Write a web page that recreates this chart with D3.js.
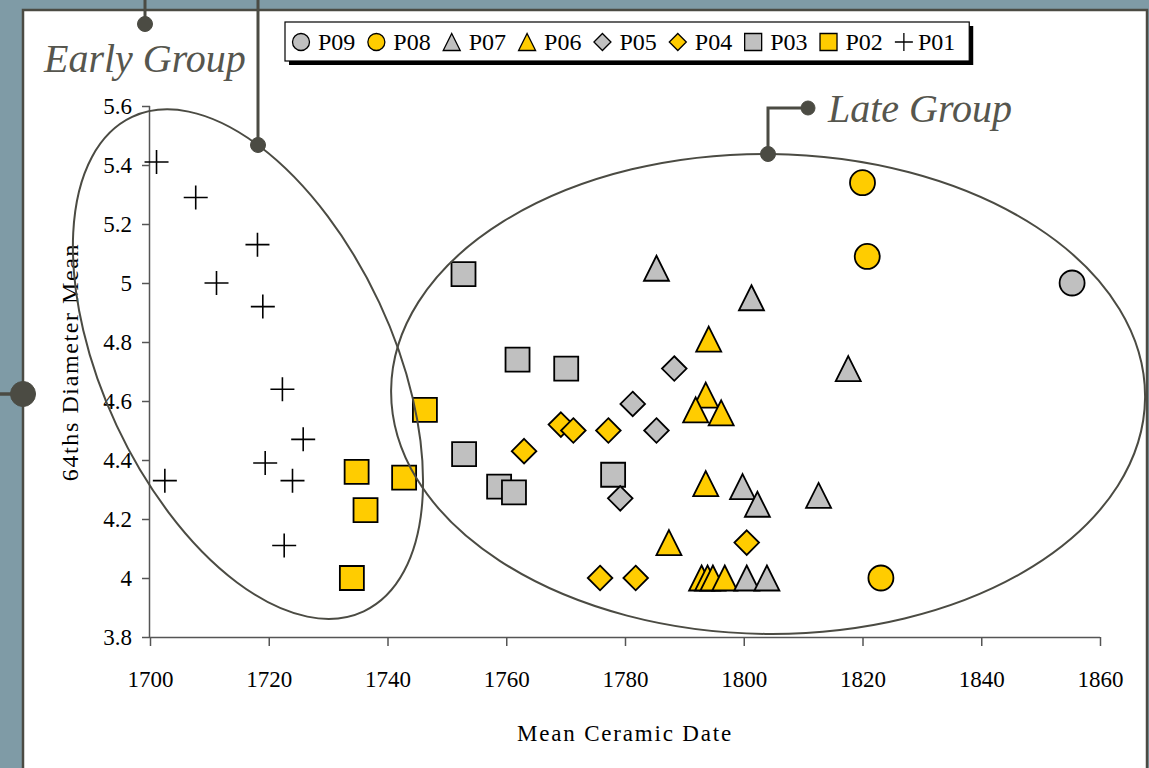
<!DOCTYPE html>
<html>
<head>
<meta charset="utf-8">
<script src="https://cdn.jsdelivr.net/npm/d3@7"></script>
<style>
  html, body { margin: 0; padding: 0; background: #7f9ba6; }
  svg { display: block; }
</style>
</head>
<body>
<svg id="chart" width="1149" height="768"></svg>
<script>
// ---- Data: mean ceramic date vs 64ths diameter mean, by phase ----
const seriesNames = ["P01", "P02", "P03", "P04", "P05", "P06", "P07", "P08", "P09"];

const p01X = [1701.1, 1707.7, 1718.1, 1711.2, 1719.0, 1722.3, 1725.8, 1719.4, 1724.0, 1702.5, 1722.6];
const p01Y = [5.41, 5.29, 5.13, 5.00, 4.92, 4.64, 4.47, 4.39, 4.33, 4.33, 4.11];

const p02X = [1734.8, 1736.3, 1742.8, 1746.3, 1734.0];
const p02Y = [4.36, 4.23, 4.34, 4.57, 4.00];

const p03X = [1752.8, 1761.9, 1770.1, 1752.9, 1758.8, 1761.3, 1778.0];
const p03Y = [5.03, 4.74, 4.71, 4.42, 4.31, 4.29, 4.35];

const p04X = [1769.2, 1771.3, 1777.2, 1763.0, 1775.8, 1781.8, 1800.5];
const p04Y = [4.52, 4.50, 4.50, 4.43, 4.00, 4.00, 4.12];

const p05X = [1788.3, 1781.3, 1785.3, 1779.2];
const p05Y = [4.71, 4.59, 4.50, 4.27];

const p06X = [1794.1, 1793.6, 1791.9, 1796.2, 1793.6, 1787.4, 1792.9, 1793.9, 1794.8, 1796.8];
const p06Y = [4.81, 4.62, 4.57, 4.56, 4.32, 4.12, 4.00, 4.00, 4.00, 4.00];

const p07X = [1785.3, 1801.3, 1799.8, 1802.3, 1800.5, 1803.9, 1817.6, 1812.6];
const p07Y = [5.05, 4.95, 4.31, 4.25, 4.00, 4.00, 4.71, 4.28];

const p08X = [1820.0, 1820.8, 1823.1];
const p08Y = [5.34, 5.09, 4.00];

const p09X = [1855.3];
const p09Y = [5.00];

const xTicks = [1700, 1720, 1740, 1760, 1780, 1800, 1820, 1840, 1860];
const yTicks = [3.8, 4.0, 4.2, 4.4, 4.6, 4.8, 5.0, 5.2, 5.4, 5.6];

const xTitle = "Mean Ceramic Date";
const yTitle = "64ths Diameter Mean";

// ---- Styles ----
const GRAY = "#c0c0c0", GOLD = "#ffcc00", INK = "#4b4b43";
const seriesStyle = {
  P01: { shape: "plus",     fill: "none" },
  P02: { shape: "square",   fill: GOLD },
  P03: { shape: "square",   fill: GRAY },
  P04: { shape: "diamond",  fill: GOLD },
  P05: { shape: "diamond",  fill: GRAY },
  P06: { shape: "triangle", fill: GOLD },
  P07: { shape: "triangle", fill: GRAY },
  P08: { shape: "circle",   fill: GOLD },
  P09: { shape: "circle",   fill: GRAY }
};
const seriesData = {
  P01: [p01X, p01Y], P02: [p02X, p02Y], P03: [p03X, p03Y],
  P04: [p04X, p04Y], P05: [p05X, p05Y], P06: [p06X, p06Y],
  P07: [p07X, p07Y], P08: [p08X, p08Y], P09: [p09X, p09Y]
};

// marker path of a given half-size s, centred on 0,0
function markerPath(shape, s) {
  switch (shape) {
    case "square":   return `M${-s},${-s}H${s}V${s}H${-s}Z`;
    case "diamond":  return `M0,${-s}L${s},0L0,${s}L${-s},0Z`;
    case "triangle": return `M0,${-s}L${s},${s}L${-s},${s}Z`;
    case "circle":   return `M${s},0A${s},${s} 0 1 1 ${-s},0A${s},${s} 0 1 1 ${s},0Z`;
    case "plus":     return `M${-s},0H${s}M0,${-s}V${s}`;
  }
}

const svg = d3.select("#chart");
const W = 1149, H = 768;
const SERIF = "'Liberation Serif', 'Times New Roman', serif";

// ---- Slide panel ----
svg.append("rect").attr("x", 0).attr("y", 0).attr("width", W).attr("height", H).attr("fill", "#7f9ba6");
svg.append("rect").attr("x", 23).attr("y", 10).attr("width", 1124).attr("height", 780)
  .attr("fill", "#ffffff").attr("stroke", INK).attr("stroke-width", 2.5);

// ---- Scales ----
const x = d3.scaleLinear().domain([1700, 1860]).range([150, 1100]);
const y = d3.scaleLinear().domain([3.8, 5.6]).range([637, 106]);

// ---- Axes ----
const xAxis = d3.axisBottom(x).tickValues(xTicks).tickSize(9).tickPadding(25).tickFormat(d3.format("d"));
const yAxis = d3.axisLeft(y).tickValues(yTicks).tickSize(8).tickPadding(10).tickFormat(d => String(+d.toFixed(1)));

const gx = svg.append("g").attr("transform", `translate(0,${y(3.8)})`).call(xAxis);
const gy = svg.append("g").attr("transform", `translate(${x(1700)},0)`).call(yAxis);
[gx, gy].forEach(g => {
  g.select(".domain").attr("stroke", "#555").attr("stroke-width", 1.5);
  g.selectAll(".tick line").attr("stroke", "#555").attr("stroke-width", 1.5);
  g.selectAll(".tick text").attr("fill", "#000").style("font-family", SERIF).style("font-size", "23px");
});
gx.select(".domain").attr("d", `M${x(1700)},0.5H${x(1860)}`);
gy.select(".domain").attr("d", `M-0.5,${y(5.6)}V${y(3.8)}`);

svg.append("text").attr("x", 625).attr("y", 741).attr("text-anchor", "middle")
  .style("font-family", SERIF).style("font-size", "23px").style("letter-spacing", "1.8px")
  .text(xTitle);
svg.append("text").attr("transform", "translate(78,362) rotate(-90)").attr("text-anchor", "middle")
  .style("font-family", SERIF).style("font-size", "24px").style("letter-spacing", "1.6px")
  .text(yTitle);

// ---- Points ----
const half = { square: 12, diamond: 12.3, triangle: 12.5, circle: 12.5, plus: 12 };
const gPts = svg.append("g");
seriesNames.forEach(name => {
  const st = seriesStyle[name];
  const [xs, ys] = seriesData[name];
  const pts = xs.map((v, i) => ({ x: v, y: ys[i] }));
  gPts.append("g").selectAll("path").data(pts).join("path")
    .attr("transform", d => `translate(${x(d.x)},${y(d.y)})`)
    .attr("d", markerPath(st.shape, half[st.shape]))
    .attr("fill", st.fill)
    .attr("stroke", "#000")
    .attr("stroke-width", st.shape === "plus" ? 1.6 : 1.8)
    .attr("stroke-linejoin", "miter");
});

// ---- Group ellipses (centre in data units, radii in px) ----
const groups = [
  { cx: 1716.5, cy: 4.725, rx: 273, ry: 145, rot: 64.9 },
  { cx: 1804.1, cy: 4.624, rx: 377, ry: 240, rot: 0.6 }
];
svg.append("g").selectAll("ellipse").data(groups).join("ellipse")
  .attr("transform", d => `translate(${x(d.cx)},${y(d.cy)}) rotate(${d.rot})`)
  .attr("rx", d => d.rx).attr("ry", d => d.ry)
  .attr("fill", "none").attr("stroke", INK).attr("stroke-width", 2);

// ---- Callouts ----
const call = svg.append("g").attr("stroke", INK).attr("fill", INK);
call.append("path").attr("d", "M258,0V145").attr("stroke-width", 3).attr("fill", "none");
call.append("circle").attr("cx", 258).attr("cy", 145).attr("r", 7.5);
call.append("path").attr("d", "M145,0V24").attr("stroke-width", 3).attr("fill", "none");
call.append("circle").attr("cx", 145).attr("cy", 24).attr("r", 7.5);
call.append("path").attr("d", "M768,154V108H808").attr("stroke-width", 3).attr("fill", "none");
call.append("circle").attr("cx", 768).attr("cy", 154).attr("r", 7.5);
call.append("circle").attr("cx", 808).attr("cy", 108).attr("r", 7);
call.append("path").attr("d", "M0,394H23").attr("stroke-width", 3.5).attr("fill", "none");
call.append("circle").attr("cx", 23).attr("cy", 394).attr("r", 12.5);

svg.append("text").attr("x", 44).attr("y", 72)
  .style("font-family", SERIF).style("font-style", "italic").style("font-size", "40px")
  .attr("fill", "#56564e").text("Early Group");
svg.append("text").attr("x", 828).attr("y", 122)
  .style("font-family", SERIF).style("font-style", "italic").style("font-size", "40px")
  .attr("fill", "#56564e").text("Late Group");

// ---- Legend ----
const lg = svg.append("g");
const legendOrder = seriesNames.slice().reverse();
const lgShadow = lg.append("rect").attr("fill", "#000");
const lgBox = lg.append("rect").attr("fill", "#fff").attr("stroke", "#000").attr("stroke-width", 1.2);
const lgHalf = { square: 8.5, diamond: 8.5, triangle: 8.5, circle: 8.5, plus: 9 };
let cursor = 301, lastEnd = 0;
legendOrder.forEach(name => {
  const st = seriesStyle[name];
  const off = st.shape === "plus" ? 14 : 17;
  lg.append("path")
    .attr("transform", `translate(${cursor},42)`)
    .attr("d", markerPath(st.shape, lgHalf[st.shape]))
    .attr("fill", st.fill).attr("stroke", "#000").attr("stroke-width", 1.3);
  const t = lg.append("text").attr("x", cursor + off).attr("y", 50)
    .style("font-family", SERIF).style("font-size", "24px").text(name);
  lastEnd = cursor + off + t.node().getComputedTextLength();
  cursor = lastEnd + 21;
});
const lgX0 = 285, lgY0 = 22, lgX1 = lastEnd + 14, lgY1 = 61;
lgShadow.attr("x", lgX0 + 4).attr("y", lgY0 + 4).attr("width", lgX1 - lgX0).attr("height", lgY1 - lgY0);
lgBox.attr("x", lgX0).attr("y", lgY0).attr("width", lgX1 - lgX0).attr("height", lgY1 - lgY0);
</script>
</body>
</html>
